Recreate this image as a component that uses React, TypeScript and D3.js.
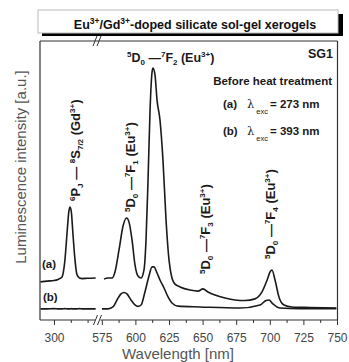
import * as d3 from "d3";
import { useEffect, useRef } from "react";

// left segment (Gd3+ region), wavelength in nm
const leftWl = [290, 295, 300, 303, 306, 308, 310, 311, 312, 313, 314, 315.5, 317, 319, 321, 325, 331];
const leftA = [13.7, 14.0, 14.2, 14.6, 15.5, 20.9, 33.1, 38.8, 40.6, 38.5, 31.7, 22.3, 16.5, 15.1, 14.9, 15.0, 15.1];
const leftB = [4.0, 4.0, 4.1, 4.0, 4.0, 4.1, 4.0, 4.0, 4.0, 4.1, 4.0, 4.0, 4.0, 4.1, 4.0, 4.0, 4.0];

// right segment (Eu3+ region)
const rightWlA = [576.6, 579.6, 582.6, 584.8, 587.8, 590.8, 593.4, 595.2, 597.5, 599.7, 601.9, 604.2, 606.4, 607.9, 609.4, 610.9, 612.4, 613.1, 614.6, 616.1, 618.3, 620.5, 622.8, 625, 627.2, 629.5, 633.2, 640.6, 646.6, 650.3, 654, 659.2, 666.7, 674.1, 681.5, 689, 694.2, 698, 700.2, 701.6, 703.9, 706.8, 710.6, 716.5, 729.9, 749.5];
const rightA = [14.7, 15.1, 15.1, 17.3, 25.2, 33.8, 36.7, 35.3, 28.8, 19.8, 15.8, 15.1, 18.0, 28.8, 50.4, 75.5, 89.2, 90.6, 88.1, 79.1, 71.9, 57.6, 36.0, 21.6, 15.1, 12.9, 11.9, 10.8, 10.4, 11.2, 10.1, 9.0, 7.9, 7.2, 7.0, 7.6, 10.1, 14.4, 17.3, 18.0, 14.4, 8.3, 5.4, 4.7, 4.5, 4.3];
const rightWlB = [575.1, 579.6, 583.3, 586.3, 589.3, 591.5, 593.7, 596.7, 599.7, 601.9, 604.2, 607.1, 610.1, 612.4, 613.8, 616.1, 618.3, 621.3, 624.3, 627.2, 631.7, 648.1, 677.8, 692.7, 697.2, 699.4, 702.3, 707.6, 722.5, 749.5];
const rightB = [4.0, 4.0, 4.7, 7.2, 9.4, 9.9, 9.4, 7.2, 5.4, 4.9, 5.4, 10.1, 15.8, 19.1, 19.1, 16.9, 14.4, 11.5, 8.3, 6.1, 5.0, 4.7, 4.3, 5.4, 7.0, 7.2, 5.8, 4.3, 4.1, 4.1];

const leftTicks = [300];
const leftMinor = [312.5, 325];
const rightTicks = [575, 600, 625, 650, 675, 700, 725, 750];
const rightMinor = [587.5, 612.5, 637.5, 662.5, 687.5, 712.5, 737.5];

type Seg = [string, "n" | "sup" | "sub"];

const gdLabel: Seg[] = [["6", "sup"], ["P", "n"], ["J", "sub"], [" — ", "n"], ["8", "sup"], ["S", "n"], ["7/2", "sub"], [" (Gd", "n"], ["3+", "sup"], [")", "n"]];
const euLabel = (k: string): Seg[] => [["5", "sup"], ["D", "n"], ["0", "sub"], [" —", "n"], ["7", "sup"], ["F", "n"], [k, "sub"], [" (Eu", "n"], ["3+", "sup"], [")", "n"]];

const App = () => {
  const ref = useRef<SVGSVGElement>(null);

  useEffect(() => {
    const svg = d3.select(ref.current);
    svg.selectAll("*").remove();

    const left = 40, right = 337.5, top = 41, bottom = 320;
    const xL = d3.scaleLinear().domain([289.6, 332]).range([left, 97]);
    const xR = d3.scaleLinear().domain([575, 750]).range([101.8, 337]);
    const y = d3.scaleLinear().domain([0, 100]).range([bottom, 42]);

    // title box with shadow
    svg.append("rect").attr("x", 42).attr("y", 14).attr("width", 301).attr("height", 22).attr("fill", "#000");
    svg.append("rect").attr("x", 38).attr("y", 10).attr("width", 300).attr("height", 23)
      .attr("fill", "#fff").attr("stroke", "#bbb").attr("stroke-width", 1);
    const title = svg.append("text").attr("x", 195).attr("y", 28.5).attr("text-anchor", "middle")
      .attr("font-family", "Liberation Sans, Arial, sans-serif").attr("font-weight", "bold")
      .attr("font-size", 12.5).attr("fill", "#111");
    title.append("tspan").text("Eu");
    title.append("tspan").attr("dy", -4.5).attr("font-size", 8.5).text("3+");
    title.append("tspan").attr("dy", 4.5).text("/Gd");
    title.append("tspan").attr("dy", -4.5).attr("font-size", 8.5).text("3+");
    title.append("tspan").attr("dy", 4.5).text("-doped silicate sol-gel xerogels");

    // frame
    svg.append("line").attr("x1", left).attr("x2", right).attr("y1", top).attr("y2", top).attr("stroke", "#333").attr("stroke-width", 1.2);
    svg.append("line").attr("x1", left).attr("x2", left).attr("y1", top).attr("y2", bottom).attr("stroke", "#333").attr("stroke-width", 1.2);
    svg.append("line").attr("x1", right).attr("x2", right).attr("y1", top).attr("y2", bottom).attr("stroke", "#333").attr("stroke-width", 1.2);
    svg.append("line").attr("x1", left).attr("x2", 95.5).attr("y1", bottom).attr("y2", bottom).attr("stroke", "#333").attr("stroke-width", 1.2);
    svg.append("line").attr("x1", 100.5).attr("x2", right).attr("y1", bottom).attr("y2", bottom).attr("stroke", "#333").attr("stroke-width", 1.2);

    // axis break marks
    [[bottom, 93.5], [top, 93]].forEach(([yy, x0]) => {
      [0, 4].forEach((dx) => {
        svg.append("line").attr("x1", x0 + dx).attr("y1", yy + 5).attr("x2", x0 + dx + 4).attr("y2", yy - 5)
          .attr("stroke", "#333").attr("stroke-width", 1);
      });
    });

    // ticks
    const tickAxis = (scale, vals, size, labels) => {
      const g = svg.append("g").attr("transform", `translate(0,${bottom})`)
        .call(d3.axisBottom(scale).tickValues(vals).tickSize(size).tickPadding(8)
          .tickFormat(labels ? d3.format("d") : () => ""));
      g.select(".domain").remove();
      g.selectAll("line").attr("stroke", "#333").attr("stroke-width", 1);
      g.selectAll("text").attr("font-family", "Liberation Sans, Arial, sans-serif")
        .attr("font-size", 12).attr("fill", "#444");
    };
    tickAxis(xL, leftTicks, 5, true);
    tickAxis(xL, leftMinor, 3, false);
    tickAxis(xR, rightTicks, 5, true);
    tickAxis(xR, rightMinor, 3, false);

    // axis titles
    svg.append("text").attr("x", 178).attr("y", 359).attr("text-anchor", "middle")
      .attr("font-family", "Liberation Sans, Arial, sans-serif").attr("font-size", 15).attr("fill", "#555")
      .text("Wavelength [nm]");
    svg.append("text").attr("transform", "translate(26,167) rotate(-90)").attr("text-anchor", "middle")
      .attr("font-family", "Liberation Sans, Arial, sans-serif").attr("font-size", 15).attr("fill", "#555")
      .text("Luminescence intensity [a.u.]");

    // spectra
    const line = (xs) => d3.line<[number, number]>().x((d) => xs(d[0])).y((d) => y(d[1])).curve(d3.curveMonotoneX);
    const series = [
      [xL, leftWl, leftA], [xL, leftWl, leftB],
      [xR, rightWlA, rightA], [xR, rightWlB, rightB],
    ];
    series.forEach(([xs, wl, vals]) => {
      svg.append("path").datum(wl.map((w, i) => [w, vals[i]]))
        .attr("d", line(xs)).attr("fill", "none").attr("stroke", "#1a1a1a")
        .attr("stroke-width", 1.6).attr("stroke-linejoin", "round");
    });

    // rich labels with sup/sub
    const rich = (segs: Seg[], x: number, yy: number, rot: boolean, size = 13) => {
      const t = svg.append("text").attr("font-family", "Liberation Sans, Arial, sans-serif")
        .attr("font-weight", "bold").attr("font-size", size).attr("fill", "#1a1a1a")
        .attr("transform", rot ? `translate(${x},${yy}) rotate(-90)` : `translate(${x},${yy})`);
      let off = 0;
      segs.forEach(([s, k]) => {
        const target = k === "sup" ? -5 : k === "sub" ? 3 : 0;
        t.append("tspan").attr("dy", target - off).attr("font-size", k === "n" ? size : 8).text(s);
        off = target;
      });
    };
    rich(euLabel("2"), 127, 62, false, 12.5);
    rich(gdLabel, 80, 201, true);
    rich(euLabel("1"), 135, 212, true);
    rich(euLabel("3"), 210, 274, true);
    rich(euLabel("4"), 275, 259, true);

    const bold = (txt, x, yy, size, anchor = "start") =>
      svg.append("text").attr("x", x).attr("y", yy).attr("text-anchor", anchor)
        .attr("font-family", "Liberation Sans, Arial, sans-serif").attr("font-weight", "bold")
        .attr("font-size", size).attr("fill", "#1a1a1a").text(txt);
    bold("SG1", 333, 58, 12.5, "end");
    bold("Before heat treatment", 332, 85, 11.5, "end");
    bold("(a)", 42, 268, 11.5);
    bold("(b)", 43, 301, 11.5);

    [["(a)", "273", 108], ["(b)", "393", 135]].forEach(([lab, nm, yy]) => {
      const t = svg.append("text").attr("x", 223).attr("y", yy)
        .attr("font-family", "Liberation Sans, Arial, sans-serif").attr("font-size", 11.5).attr("fill", "#1a1a1a");
      t.append("tspan").attr("font-weight", "bold").text(lab);
      t.append("tspan").attr("x", 247).attr("font-family", "DejaVu Serif, serif").text("λ");
      t.append("tspan").attr("dy", 6).attr("dx", 2).attr("font-size", 7.5).text("exc");
      t.append("tspan").attr("dy", -6).attr("dx", 2).attr("font-weight", "bold").text("= " + nm + " nm");
    });
  }, []);

  return <svg width={349} height={362} ref={ref} style={{ position: "absolute", left: 0, top: 0 }} />;
};

export default App;
